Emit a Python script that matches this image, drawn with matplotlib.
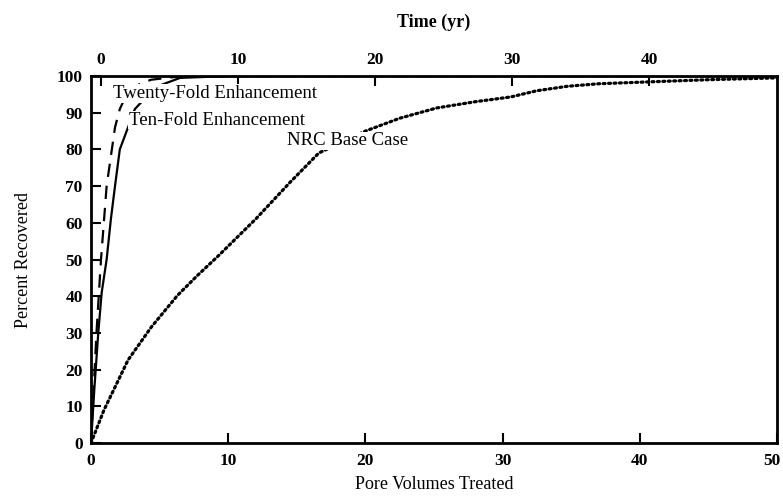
import matplotlib
matplotlib.use("Agg")
import matplotlib.pyplot as plt
import matplotlib.transforms as mtransforms

# curves (pore volumes vs percent recovered)
twenty_pv = [0, 0.2, 0.4, 0.73, 1.14, 1.75, 2.1, 2.6, 3.6, 4.4, 6, 8, 50]
twenty_pct = [0, 15, 30, 50, 70, 86, 91, 95, 98, 99, 99.7, 100, 100]

ten_pv = [0, 0.25, 0.53, 0.78, 1.14, 1.45, 1.75, 2.1, 2.6, 3.2, 4.7, 6.5, 10, 50]
ten_pct = [0, 15, 30, 41, 50, 61, 70, 80, 85, 91, 97, 99.5, 100, 100]

nrc_pv = [0, 0.95, 2.7, 4.4, 6.3, 7.8, 9.2, 12, 14.5, 16.6, 20, 22.5, 25.2,
          28, 30.6, 32.5, 34.7, 37, 40.6, 45, 50]
nrc_pct = [0, 9, 22.6, 31.6, 40.2, 45.8, 50.7, 61, 71, 79, 85, 88.5, 91.3,
           93, 94.3, 96.0, 97.2, 97.9, 98.4, 99.0, 99.5]

pv_ticks = [0, 10, 20, 30, 40, 50]
pct_ticks = [0, 10, 20, 30, 40, 50, 60, 70, 80, 90, 100]
time_ticks = [0, 10, 20, 30, 40]
time_offset = 0.7  # top scale sits slightly right of the bottom one in the scan

labels = ["Twenty-Fold Enhancement", "Ten-Fold Enhancement", "NRC Base Case"]
label_pos = [(1.6, 95.2), (2.75, 88), (14.3, 82.3)]

plt.rcParams["font.family"] = ["Liberation Serif", "DejaVu Serif"]

fig = plt.figure(figsize=(7.83, 4.97), dpi=100)
ax = fig.add_axes([0.1162, 0.1087, 0.8761, 0.7383])

ax.plot(ten_pv, ten_pct, color="black", lw=1.6, solid_capstyle="butt")
ax.plot(twenty_pv, twenty_pct, color="black", lw=1.6, dashes=(6, 4))
ax.plot(nrc_pv, nrc_pct, color="black", lw=2.3, linestyle=(0, (0.6, 1.1)),
        dash_capstyle="round")

for text, (x, y) in zip(labels, label_pos):
    ax.text(x, y, text, fontsize=13.5, ha="left", va="center",
            bbox=dict(facecolor="white", edgecolor="none", pad=0.5), zorder=5)

ax.set_xlim(0, 50)
ax.set_ylim(0, 100)
ax.set_xticks(pv_ticks)
ax.set_yticks(pct_ticks)
ax.tick_params(direction="in", length=7, width=1.5, labelsize=12.5, pad=6)
ax.tick_params(axis="x", pad=7)
for lab in ax.get_xticklabels() + ax.get_yticklabels():
    lab.set_fontweight("bold")
for s in ax.spines.values():
    s.set_linewidth(2.0)

# the last bottom label sits against the page edge; nudge it in a little
last = ax.get_xticklabels()[-1]
last.set_transform(last.get_transform() +
                   mtransforms.ScaledTranslation(-5 / 100, 0, fig.dpi_scale_trans))

ax.set_xlabel("Pore Volumes Treated", fontsize=13, labelpad=5)
ax.set_ylabel("Percent Recovered", fontsize=13, labelpad=18)

top = ax.secondary_xaxis("top", functions=(lambda x: x - time_offset,
                                           lambda t: t + time_offset))
top.set_xticks(time_ticks)
top.tick_params(direction="in", length=7, width=1.5, labelsize=12.5, pad=6)
for lab in top.get_xticklabels():
    lab.set_fontweight("bold")
fig.text(434 / 783, 1 - 22 / 497, "Time (yr)", fontsize=13, fontweight="bold",
         ha="center", va="center")

fig.savefig("out.png", dpi=100)
